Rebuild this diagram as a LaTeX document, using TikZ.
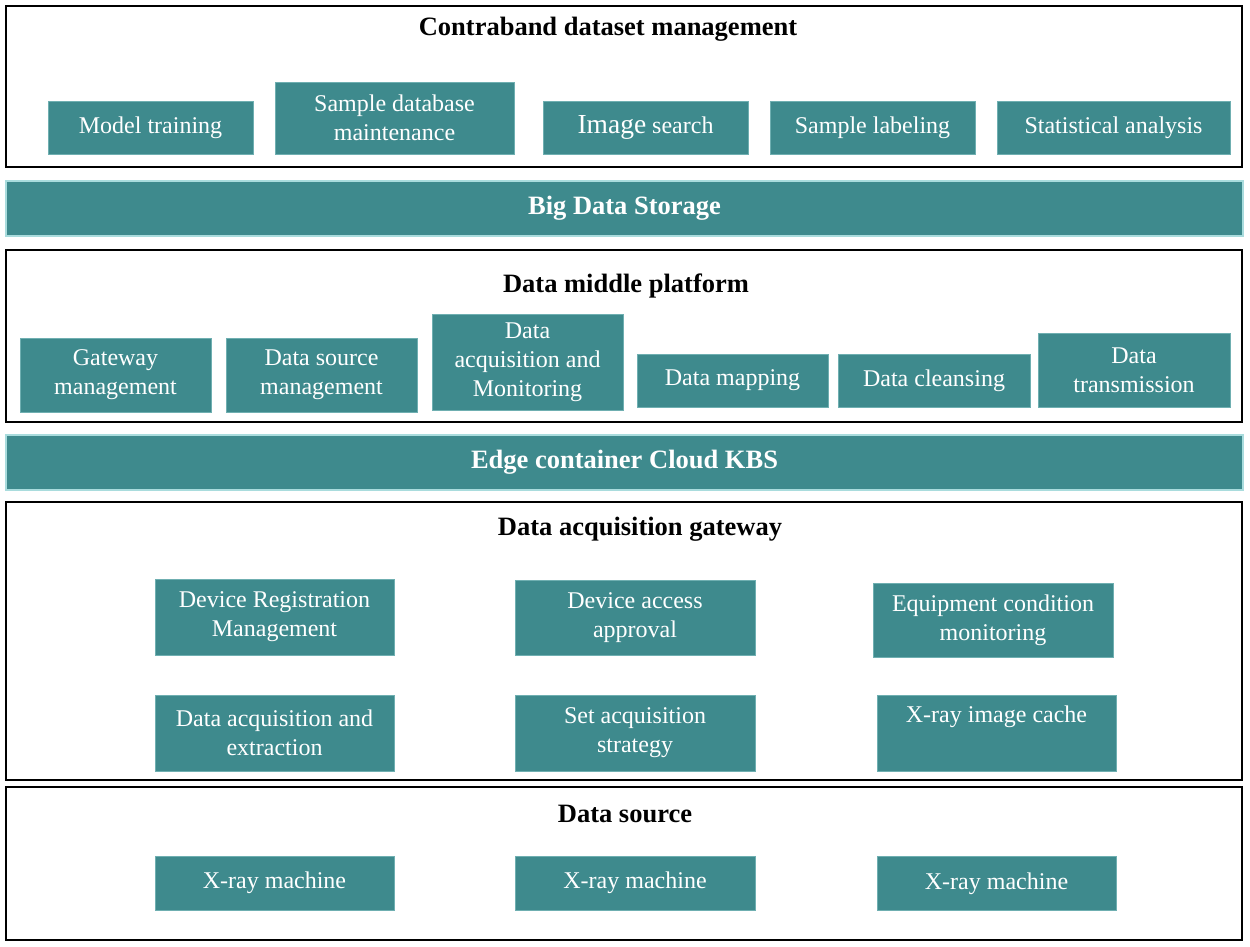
\documentclass[tikz,border=0pt]{standalone}
\usepackage{fontspec}
\setmainfont{Liberation Serif}
\usepackage{xcolor}
\definecolor{boxteal}{HTML}{3E8A8D}
\definecolor{boxedge}{HTML}{6FAFB1}
\definecolor{bandedge}{HTML}{A9DCDD}
\newcommand{\boxfont}{\fontsize{24}{29}\selectfont}
\newcommand{\headfont}{\bfseries\fontsize{26.5}{30}\selectfont}
\usepackage{tikz}
\usetikzlibrary{positioning}

\begin{document}
\begin{tikzpicture}[x=1pt, y=-1pt,
    box/.style={fill=boxteal, draw=boxedge, line width=0.8pt, text=white,
      align=center, font=\boxfont, inner sep=0pt},
    band/.style={fill=boxteal, draw=bandedge, line width=2pt, text=white,
      font=\headfont, inner sep=0pt, minimum width=1237, minimum height=55},
    panel/.style={draw=black, line width=2.8pt},
    head/.style={font=\headfont, inner sep=0pt}]

      \useasboundingbox (0,0) rectangle (1250,946);

      % panels
      \draw [panel] (6,6) rectangle (1242,167);
      \draw [panel] (6,250) rectangle (1242,422);
      \draw [panel] (6,502) rectangle (1242,780);
      \draw [panel] (6,787) rectangle (1242,940);

      % contraband dataset management
      \node [head] (hcontra) at (608,29) {Contraband dataset management};
      \node [box, minimum width=205, minimum height=53] (train) at (150.5,127.5) {Model training};
      \node [box, minimum width=239, minimum height=72] (maint) at (394.5,118) {Sample database\\maintenance};
      \node [box, minimum width=205, minimum height=53] (search) at (645.5,127.5) {{\fontsize{27.5}{29}\selectfont Image} search};
      \node [box, minimum width=205, minimum height=53] (label) at (872.5,127.5) {Sample labeling};
      \node [box, minimum width=233, minimum height=53] (stats) at (1113.5,127.5) {Statistical analysis};

      \node [band] (storage) at (624.5,208.5) {\raisebox{-2pt}{Big Data Storage}};

      % data middle platform
      \node [head] (hmiddle) at (626,286) {Data middle platform};
      \node [box, minimum width=191, minimum height=74] (gwman) at (115.5,375) {Gateway\\management};
      \node [box, minimum width=191, minimum height=74] (srcman) at (321.5,375) {Data source\\management};
      \node [box, minimum width=191, minimum height=96] (acqmon) at (527.5,362) {Data\\acquisition and\\Monitoring};
      \node [box, minimum width=191, minimum height=53] (mapping) at (732.5,380.5) {Data mapping};
      \node [box, minimum width=192, minimum height=53] (cleansing) at (934,380.5) {Data cleansing};
      \node [box, minimum width=192, minimum height=74] (transm) at (1134,370) {Data\\transmission};

      \node [band] (edge) at (624.5,462.5) {\raisebox{-2pt}{Edge container Cloud KBS}};

      % data acquisition gateway
      \node [head] (hgateway) at (640,529) {Data acquisition gateway};
      \node [box, minimum width=239, minimum height=76] (devreg) at (274.5,617) {Device Registration\\Management};
      \node [box, minimum width=240, minimum height=75] (devacc) at (635,617.5) {Device access\\approval};
      \node [box, minimum width=240, minimum height=74] (condmon) at (993,620) {Equipment condition\\monitoring};
      \node [box, minimum width=239, minimum height=76] (extract) at (274.5,733) {Data acquisition and\\extraction};
      \node [box, minimum width=240, minimum height=76] (strategy) at (635,733) {Set acquisition\\strategy};
      \node [box, minimum width=239, minimum height=76] (cache) at (996.5,733) {X-ray image cache\\\strut};

      % data source
      \node [head] (hsource) at (625,814) {Data source};
      \node [box, minimum width=239, minimum height=54] (xray1) at (274.5,883) {X-ray machine};
      \node [box, minimum width=240, minimum height=54] (xray2) at (635,883) {X-ray machine};
      \node [box, minimum width=239, minimum height=54] (xray3) at (996.5,883.5) {X-ray machine};

    \end{tikzpicture}
\end{document}
